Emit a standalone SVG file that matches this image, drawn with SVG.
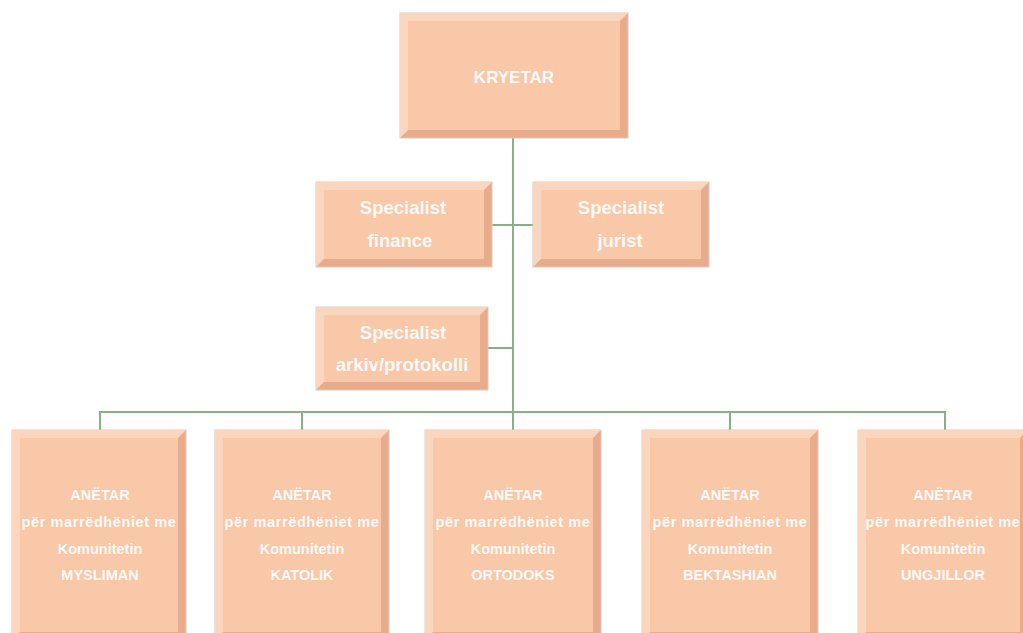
<svg xmlns="http://www.w3.org/2000/svg" width="1023" height="633" viewBox="0 0 1023 633">
<style>
.sh{fill:#E8AC8D;stroke:#DCC9BD;stroke-width:1}
.hl{fill:#FBD6BE}
.fc{fill:#F8C8A9}
.ln{stroke:#86B383;stroke-width:2;fill:none}
text{font-family:"Liberation Sans",Arial,sans-serif;font-weight:bold;fill:#FFFFFF;fill-opacity:0.92;text-anchor:middle}
.t1{font-size:17px}
.t2{font-size:18.5px}
.t3{font-size:14.5px}
.lg{letter-spacing:0.6px}
</style>
<rect width="1023" height="633" fill="#FFFFFF"/>
<g id="connectors">
<line class="ln" x1="513" y1="138" x2="513" y2="412"/>
<line class="ln" x1="492" y1="225" x2="533" y2="225"/>
<line class="ln" x1="488" y1="348" x2="513" y2="348"/>
<line class="ln" x1="99" y1="412" x2="946" y2="412"/>
<line class="ln" x1="100" y1="411" x2="100" y2="430"/>
<line class="ln" x1="302" y1="411" x2="302" y2="430"/>
<line class="ln" x1="513" y1="411" x2="513" y2="430"/>
<line class="ln" x1="730" y1="411" x2="730" y2="430"/>
<line class="ln" x1="945" y1="411" x2="945" y2="430"/>
</g>
<g id="kryetar">
<rect class="sh" x="400" y="13" width="228" height="125"/>
<polygon class="hl" points="400,13 628,13 620,21 408,21 408,130 400,138"/>
<rect class="fc" x="408" y="21" width="212" height="109"/>
<text class="t1" x="514" y="83">KRYETAR</text>
</g>
<g id="finance">
<rect class="sh" x="316" y="182" width="176" height="85"/>
<polygon class="hl" points="316,182 492,182 484,190 324,190 324,259 316,267"/>
<rect class="fc" x="324" y="190" width="160" height="69"/>
<text class="t2" x="403" y="214">Specialist</text>
<text class="t2" x="400" y="247">finance</text>
</g>
<g id="jurist">
<rect class="sh" x="533" y="182" width="176" height="85"/>
<polygon class="hl" points="533,182 709,182 701,190 541,190 541,259 533,267"/>
<rect class="fc" x="541" y="190" width="160" height="69"/>
<text class="t2" x="621" y="214">Specialist</text>
<text class="t2" x="620" y="247">jurist</text>
</g>
<g id="arkiv">
<rect class="sh" x="316" y="307" width="172" height="83"/>
<polygon class="hl" points="316,307 488,307 480,315 324,315 324,382 316,390"/>
<rect class="fc" x="324" y="315" width="156" height="67"/>
<text class="t2" x="403" y="339">Specialist</text>
<text class="t2" x="402" y="371">arkiv/protokolli</text>
</g>
<g id="mysliman">
<rect class="sh" x="12" y="430" width="174" height="210"/>
<polygon class="hl" points="12,430 186,430 178,438 20,438 20,632 12,640"/>
<rect class="fc" x="20" y="438" width="158" height="194"/>
<text class="t3" x="100" y="500">ANËTAR</text>
<text class="t3 lg" x="99" y="527">për marrëdhëniet me</text>
<text class="t3" x="100" y="554">Komunitetin</text>
<text class="t3" x="100" y="580">MYSLIMAN</text>
</g>
<g id="katolik">
<rect class="sh" x="215" y="430" width="174" height="210"/>
<polygon class="hl" points="215,430 389,430 381,438 223,438 223,632 215,640"/>
<rect class="fc" x="223" y="438" width="158" height="194"/>
<text class="t3" x="302" y="500">ANËTAR</text>
<text class="t3 lg" x="302" y="527">për marrëdhëniet me</text>
<text class="t3" x="302" y="554">Komunitetin</text>
<text class="t3" x="302" y="580">KATOLIK</text>
</g>
<g id="ortodoks">
<rect class="sh" x="425" y="430" width="176" height="210"/>
<polygon class="hl" points="425,430 601,430 593,438 433,438 433,632 425,640"/>
<rect class="fc" x="433" y="438" width="160" height="194"/>
<text class="t3" x="513" y="500">ANËTAR</text>
<text class="t3 lg" x="513" y="527">për marrëdhëniet me</text>
<text class="t3" x="513" y="554">Komunitetin</text>
<text class="t3" x="513" y="580">ORTODOKS</text>
</g>
<g id="bektashian">
<rect class="sh" x="642" y="430" width="176" height="210"/>
<polygon class="hl" points="642,430 818,430 810,438 650,438 650,632 642,640"/>
<rect class="fc" x="650" y="438" width="160" height="194"/>
<text class="t3" x="730" y="500">ANËTAR</text>
<text class="t3 lg" x="730" y="527">për marrëdhëniet me</text>
<text class="t3" x="730" y="554">Komunitetin</text>
<text class="t3" x="730" y="580">BEKTASHIAN</text>
</g>
<g id="ungjillor">
<rect class="sh" x="858" y="430" width="170" height="210"/>
<polygon class="hl" points="858,430 1028,430 1020,438 866,438 866,632 858,640"/>
<rect class="fc" x="866" y="438" width="154" height="194"/>
<text class="t3" x="943" y="500">ANËTAR</text>
<text class="t3 lg" x="943" y="527">për marrëdhëniet me</text>
<text class="t3" x="943" y="554">Komunitetin</text>
<text class="t3" x="943" y="580">UNGJILLOR</text>
</g>
</svg>
